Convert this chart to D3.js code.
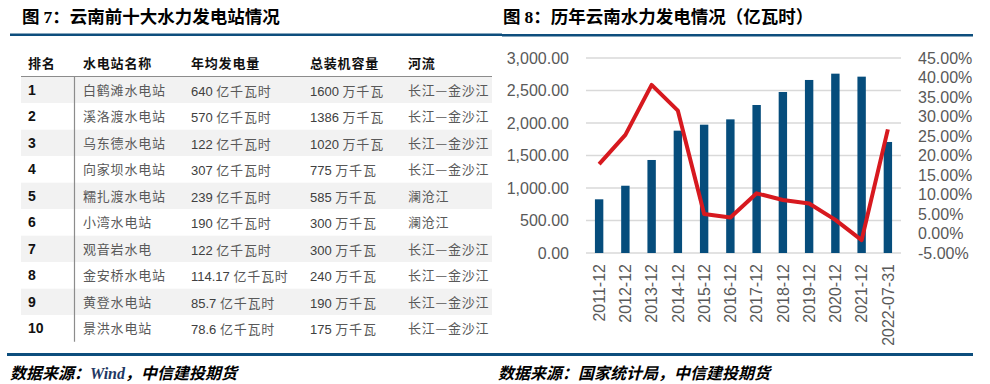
<!DOCTYPE html>
<html>
<head>
<meta charset="utf-8">
<script src="https://cdn.jsdelivr.net/npm/d3@7/dist/d3.min.js"></script>
<style>
  html, body { margin: 0; padding: 0; background: #fff; }
  svg { display: block; }
</style>
</head>
<body>
<svg id="chart" width="990" height="384"></svg>
<script>
// ---------- Table data (Figure 7) ----------
const tableHeaders = ["排名", "水电站名称", "年均发电量", "总装机容量", "河流"];
const ranks = ["1", "2", "3", "4", "5", "6", "7", "8", "9", "10"];
const stationNames = ["白鹤滩水电站", "溪洛渡水电站", "乌东德水电站", "向家坝水电站", "糯扎渡水电站",
                      "小湾水电站", "观音岩水电", "金安桥水电站", "黄登水电站", "景洪水电站"];
const annualGenNum = ["640", "570", "122", "307", "239", "190", "122", "114.17", "85.7", "78.6"];
const annualGenUnit = "亿千瓦时";
const capacityNum = ["1600", "1386", "1020", "775", "585", "300", "300", "240", "190", "175"];
const capacityUnit = "万千瓦";
const rivers = ["长江—金沙江", "长江—金沙江", "长江—金沙江", "长江—金沙江", "澜沧江",
                "澜沧江", "长江—金沙江", "长江—金沙江", "长江—金沙江", "长江—金沙江"];

// ---------- Chart data (Figure 8) ----------
const categories = ["2011-12", "2012-12", "2013-12", "2014-12", "2015-12", "2016-12",
                    "2017-12", "2018-12", "2019-12", "2020-12", "2021-12", "2022-07-31"];
const hydroValues = [826, 1035, 1431, 1882, 1974, 2056, 2277, 2477, 2662, 2759, 2713, 1708];
const growthRates = [17.8, 25.3, 38.1, 31.5, 5.0, 4.1, 10.3, 8.6, 7.7, 3.5, -1.7, 26.7];
const leftTicks = [0, 500, 1000, 1500, 2000, 2500, 3000];
const rightTicks = [-5, 0, 5, 10, 15, 20, 25, 30, 35, 40, 45];

const svg = d3.select("#chart");
const BLUE = "#0d4e7d";
const CJK = "'Noto Sans CJK SC', 'Noto Sans', sans-serif";

// ---------- Titles and rules ----------
function title(x, prefix, num, rest) {
  const t = svg.append("text").attr("x", x).attr("y", 23)
    .attr("font-family", CJK).attr("font-weight", 700).attr("font-size", 17.5).attr("fill", "#000");
  t.append("tspan").text(prefix);
  t.append("tspan").attr("font-family", "'Liberation Serif', serif").text(num);
  t.append("tspan").text(rest);
}
title(22, "图 ", "7", "：云南前十大水力发电站情况");
title(503, "图 ", "8", "：历年云南水力发电情况（亿瓦时）");

svg.append("rect").attr("x", 10).attr("y", 33.5).attr("width", 492).attr("height", 2.5).attr("fill", BLUE);
svg.append("rect").attr("x", 502).attr("y", 34).attr("width", 471).attr("height", 2.5).attr("fill", BLUE);
svg.append("rect").attr("x", 7).attr("y", 353).attr("width", 966).attr("height", 3).attr("fill", BLUE);

function source(x, parts) {
  const t = svg.append("text").attr("x", x).attr("y", 379)
    .attr("font-family", CJK).attr("font-weight", 700).attr("font-style", "italic")
    .attr("font-size", 16).attr("fill", "#000");
  parts.forEach(p => {
    const s = t.append("tspan").text(p.t);
    if (p.latin) s.attr("font-family", "'Liberation Serif', serif").attr("fill", "#1f3864");
  });
}
source(10, [{t: "数据来源："}, {t: "Wind", latin: true}, {t: "，中信建投期货"}]);
source(498, [{t: "数据来源：国家统计局，中信建投期货"}]);

// ---------- Table ----------
const tableLeft = 21, tableRight = 492;
const rowY = d3.scaleBand().domain(ranks).range([76.7, 341.7]).paddingInner(0).paddingOuter(0);
const colX = [28, 83, 191, 310, 408];

const table = svg.append("g");
table.selectAll("text.hdr").data(tableHeaders).join("text")
  .attr("class", "hdr")
  .attr("x", (d, i) => colX[i]).attr("y", 68)
  .attr("font-family", CJK).attr("font-weight", 700).attr("font-size", 13)
  .attr("letter-spacing", 0.8).attr("fill", "#111").text(d => d);

table.selectAll("rect.band").data(ranks).join("rect")
  .attr("class", "band")
  .attr("x", tableLeft).attr("width", tableRight - tableLeft)
  .attr("y", d => rowY(d)).attr("height", rowY.bandwidth())
  .attr("fill", (d, i) => i % 2 === 0 ? "#f2f2f2" : "#ffffff");

table.append("line").attr("x1", tableLeft).attr("x2", tableRight).attr("y1", 76.5).attr("y2", 76.5)
  .attr("stroke", "#8c8c8c").attr("stroke-width", 1.2);
table.append("line").attr("x1", 74.5).attr("x2", 74.5).attr("y1", 77).attr("y2", 341.7)
  .attr("stroke", "#8c8c8c").attr("stroke-width", 1.2);

const rows = table.selectAll("g.row").data(ranks).join("g").attr("class", "row")
  .attr("transform", d => `translate(0,${rowY(d) + rowY.bandwidth() / 2})`);

rows.append("text").attr("x", colX[0]).attr("dy", "0.36em")
  .attr("font-family", "'Liberation Sans', Arial, sans-serif").attr("font-weight", 700)
  .attr("font-size", 14).attr("fill", "#111").text(d => d);

rows.append("text").attr("x", colX[1]).attr("dy", "0.36em")
  .attr("font-family", CJK).attr("font-size", 13).attr("letter-spacing", 0.8)
  .attr("fill", "#595959").text((d, i) => stationNames[i]);

function numUnit(sel, x, nums, unit) {
  const t = sel.append("text").attr("x", x).attr("dy", "0.36em").attr("fill", "#404040");
  t.append("tspan").attr("font-family", "'Liberation Sans', Arial, sans-serif").attr("font-size", 13)
    .text((d, i) => nums[i] + " ");
  t.append("tspan").attr("font-family", CJK).attr("font-size", 13).attr("letter-spacing", 0.8)
    .attr("fill", "#595959").text(unit);
}
numUnit(rows, colX[2], annualGenNum, annualGenUnit);
numUnit(rows, colX[3], capacityNum, capacityUnit);

rows.append("text").attr("x", colX[4]).attr("dy", "0.36em")
  .attr("font-family", CJK).attr("font-size", 13).attr("letter-spacing", 0.8)
  .attr("fill", "#595959").text((d, i) => rivers[i]);

// ---------- Chart ----------
const plot = {left: 586, right: 901, top: 58, bottom: 253};
const x = d3.scaleBand().domain(categories).range([plot.left, plot.right]).paddingInner(0.68).paddingOuter(0.34);
const yL = d3.scaleLinear().domain([0, 3000]).range([plot.bottom, plot.top]);
const yR = d3.scaleLinear().domain([-5, 45]).range([plot.bottom, plot.top]);

const g = svg.append("g");
g.selectAll("line.grid").data(leftTicks).join("line").attr("class", "grid")
  .attr("x1", plot.left).attr("x2", plot.right)
  .attr("y1", d => yL(d)).attr("y2", d => yL(d))
  .attr("stroke", "#d9d9d9").attr("stroke-width", 1.5);

const axisFont = "'Liberation Sans', Arial, sans-serif";
const leftAxis = g.append("g").attr("transform", `translate(${plot.left - 17},0)`)
  .call(d3.axisLeft(yL).tickValues(leftTicks).tickSize(0).tickPadding(0).tickFormat(d3.format(",.2f")));
const rightAxis = g.append("g").attr("transform", `translate(${plot.right + 17},0)`)
  .call(d3.axisRight(yR).tickValues(rightTicks).tickSize(0).tickPadding(0).tickFormat(d => d.toFixed(2) + "%"));
[leftAxis, rightAxis].forEach(a => {
  a.select(".domain").remove();
  a.selectAll("text").attr("font-family", axisFont).attr("font-size", 16).attr("fill", "#595959");
});

g.selectAll("rect.bar").data(categories).join("rect").attr("class", "bar")
  .attr("x", d => x(d)).attr("width", x.bandwidth())
  .attr("y", (d, i) => yL(hydroValues[i]))
  .attr("height", (d, i) => yL(0) - yL(hydroValues[i]))
  .attr("fill", "#064d7c");

const line = d3.line()
  .x((d, i) => x(categories[i]) + x.bandwidth() / 2)
  .y(d => yR(d));
g.append("path").datum(growthRates).attr("d", line)
  .attr("fill", "none").attr("stroke", "#d7191f").attr("stroke-width", 4)
  .attr("stroke-linejoin", "round").attr("stroke-linecap", "butt");

const xAxis = g.append("g").attr("transform", `translate(0,${plot.bottom})`)
  .call(d3.axisBottom(x).tickSize(0).tickPadding(0));
xAxis.select(".domain").remove();
xAxis.selectAll("text")
  .attr("transform", "translate(0,11) rotate(-90)")
  .attr("text-anchor", "end").attr("x", 0).attr("y", 0).attr("dy", "0.36em")
  .attr("font-family", axisFont).attr("font-size", 16).attr("fill", "#595959");
</script>
</body>
</html>
